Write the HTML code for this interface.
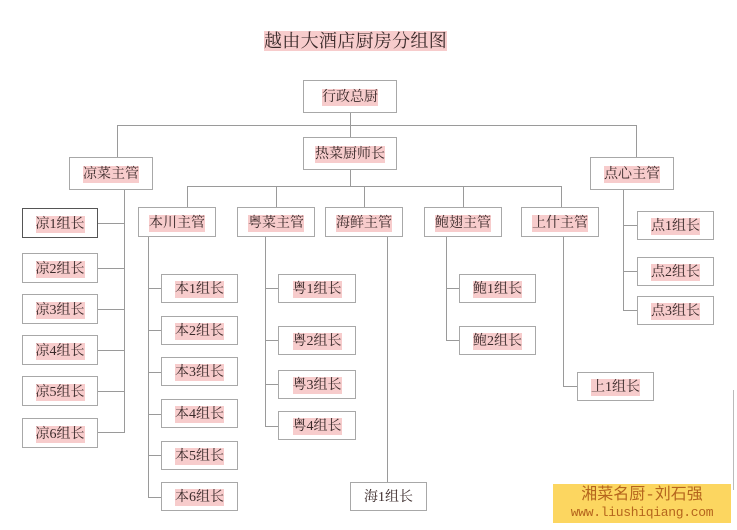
<!DOCTYPE html>
<html><head><meta charset="utf-8"><style>
body{margin:0;width:737px;height:530px;background:#fff;position:relative;overflow:hidden;font-family:"Liberation Serif","Noto Serif CJK SC",serif;}
.b{position:absolute;box-sizing:border-box;border:1px solid #a8a8a8;background:#fff;display:flex;align-items:center;justify-content:center;font-size:14px;color:#3a2a2a;padding-top:2px;}
.b span{background:#f7cccc;line-height:17px;}
.l{position:absolute;background:#9a9a9a;}
.h{height:1px}.v{width:1px}
</style></head><body>
<div style="position:absolute;left:264px;top:31px;font-size:18px;line-height:20px;background:#f7cccc;color:#3a2a2a;letter-spacing:0.3px">越由大酒店厨房分组图</div>
<div class="l v" style="left:350px;top:113px;height:24px"></div>
<div class="l h" style="left:117px;top:125px;width:520px"></div>
<div class="l v" style="left:117px;top:125px;height:32px"></div>
<div class="l v" style="left:636px;top:125px;height:32px"></div>
<div class="l v" style="left:350px;top:170px;height:16px"></div>
<div class="l h" style="left:187px;top:186px;width:375px"></div>
<div class="l v" style="left:187px;top:186px;height:21px"></div>
<div class="l v" style="left:276px;top:186px;height:21px"></div>
<div class="l v" style="left:364px;top:186px;height:21px"></div>
<div class="l v" style="left:463px;top:186px;height:21px"></div>
<div class="l v" style="left:561px;top:186px;height:21px"></div>
<div class="l v" style="left:124px;top:190px;height:243px"></div>
<div class="l h" style="left:98px;top:223px;width:26px"></div>
<div class="l h" style="left:98px;top:268px;width:26px"></div>
<div class="l h" style="left:98px;top:309px;width:26px"></div>
<div class="l h" style="left:98px;top:350px;width:26px"></div>
<div class="l h" style="left:98px;top:391px;width:26px"></div>
<div class="l h" style="left:98px;top:432px;width:26px"></div>
<div class="l v" style="left:148px;top:237px;height:261px"></div>
<div class="l h" style="left:148px;top:288px;width:14px"></div>
<div class="l h" style="left:148px;top:330px;width:14px"></div>
<div class="l h" style="left:148px;top:372px;width:14px"></div>
<div class="l h" style="left:148px;top:414px;width:14px"></div>
<div class="l h" style="left:148px;top:455px;width:14px"></div>
<div class="l h" style="left:148px;top:497px;width:14px"></div>
<div class="l v" style="left:265px;top:237px;height:190px"></div>
<div class="l h" style="left:265px;top:288px;width:14px"></div>
<div class="l h" style="left:265px;top:340px;width:14px"></div>
<div class="l h" style="left:265px;top:384px;width:14px"></div>
<div class="l h" style="left:265px;top:426px;width:14px"></div>
<div class="l v" style="left:387px;top:237px;height:245px"></div>
<div class="l v" style="left:446px;top:237px;height:104px"></div>
<div class="l h" style="left:446px;top:288px;width:14px"></div>
<div class="l h" style="left:446px;top:340px;width:14px"></div>
<div class="l v" style="left:563px;top:237px;height:150px"></div>
<div class="l h" style="left:563px;top:386px;width:14px"></div>
<div class="l v" style="left:623px;top:190px;height:120px"></div>
<div class="l h" style="left:623px;top:225px;width:15px"></div>
<div class="l h" style="left:623px;top:271px;width:15px"></div>
<div class="l h" style="left:623px;top:310px;width:15px"></div>
<div class="l v" style="left:733px;top:390px;height:100px;background:#bbb"></div>
<div class="b" style="left:303px;top:80px;width:94px;height:33px"><span>行政总厨</span></div>
<div class="b" style="left:303px;top:137px;width:94px;height:33px"><span>热菜厨师长</span></div>
<div class="b" style="left:69px;top:157px;width:84px;height:33px"><span>凉菜主管</span></div>
<div class="b" style="left:590px;top:157px;width:84px;height:33px"><span>点心主管</span></div>
<div class="b" style="left:138px;top:207px;width:78px;height:30px"><span>本川主管</span></div>
<div class="b" style="left:237px;top:207px;width:78px;height:30px"><span>粤菜主管</span></div>
<div class="b" style="left:325px;top:207px;width:78px;height:30px"><span>海鲜主管</span></div>
<div class="b" style="left:424px;top:207px;width:78px;height:30px"><span>鲍翅主管</span></div>
<div class="b" style="left:521px;top:207px;width:78px;height:30px"><span>上什主管</span></div>
<div class="b" style="left:22px;top:208px;width:76px;height:30px;border-color:#555"><span>凉1组长</span></div>
<div class="b" style="left:22px;top:253px;width:76px;height:30px"><span>凉2组长</span></div>
<div class="b" style="left:22px;top:294px;width:76px;height:30px"><span>凉3组长</span></div>
<div class="b" style="left:22px;top:335px;width:76px;height:30px"><span>凉4组长</span></div>
<div class="b" style="left:22px;top:376px;width:76px;height:30px"><span>凉5组长</span></div>
<div class="b" style="left:22px;top:418px;width:76px;height:30px"><span>凉6组长</span></div>
<div class="b" style="left:161px;top:274px;width:77px;height:29px"><span>本1组长</span></div>
<div class="b" style="left:161px;top:316px;width:77px;height:29px"><span>本2组长</span></div>
<div class="b" style="left:161px;top:357px;width:77px;height:29px"><span>本3组长</span></div>
<div class="b" style="left:161px;top:399px;width:77px;height:29px"><span>本4组长</span></div>
<div class="b" style="left:161px;top:441px;width:77px;height:29px"><span>本5组长</span></div>
<div class="b" style="left:161px;top:482px;width:77px;height:29px"><span>本6组长</span></div>
<div class="b" style="left:278px;top:274px;width:78px;height:29px"><span>粤1组长</span></div>
<div class="b" style="left:278px;top:326px;width:78px;height:29px"><span>粤2组长</span></div>
<div class="b" style="left:278px;top:370px;width:78px;height:29px"><span>粤3组长</span></div>
<div class="b" style="left:278px;top:411px;width:78px;height:29px"><span>粤4组长</span></div>
<div class="b" style="left:350px;top:482px;width:77px;height:29px"><span style="background:none">海1组长</span></div>
<div class="b" style="left:459px;top:274px;width:77px;height:29px"><span>鲍1组长</span></div>
<div class="b" style="left:459px;top:326px;width:77px;height:29px"><span>鲍2组长</span></div>
<div class="b" style="left:577px;top:372px;width:77px;height:29px"><span>上1组长</span></div>
<div class="b" style="left:637px;top:211px;width:77px;height:29px"><span>点1组长</span></div>
<div class="b" style="left:637px;top:257px;width:77px;height:29px"><span>点2组长</span></div>
<div class="b" style="left:637px;top:296px;width:77px;height:29px"><span>点3组长</span></div>
<div style="position:absolute;left:553px;top:484px;width:178px;height:39px;background:#fcd660;color:#b5651d;text-align:center;font-family:'Liberation Mono','Noto Sans CJK SC',monospace">
<div style="font-size:16px;line-height:20px;padding-top:1px">湘菜名厨-刘石强</div>
<div style="font-size:13px;line-height:16px;letter-spacing:-0.3px">www.liushiqiang.com</div>
</div>
</body></html>
